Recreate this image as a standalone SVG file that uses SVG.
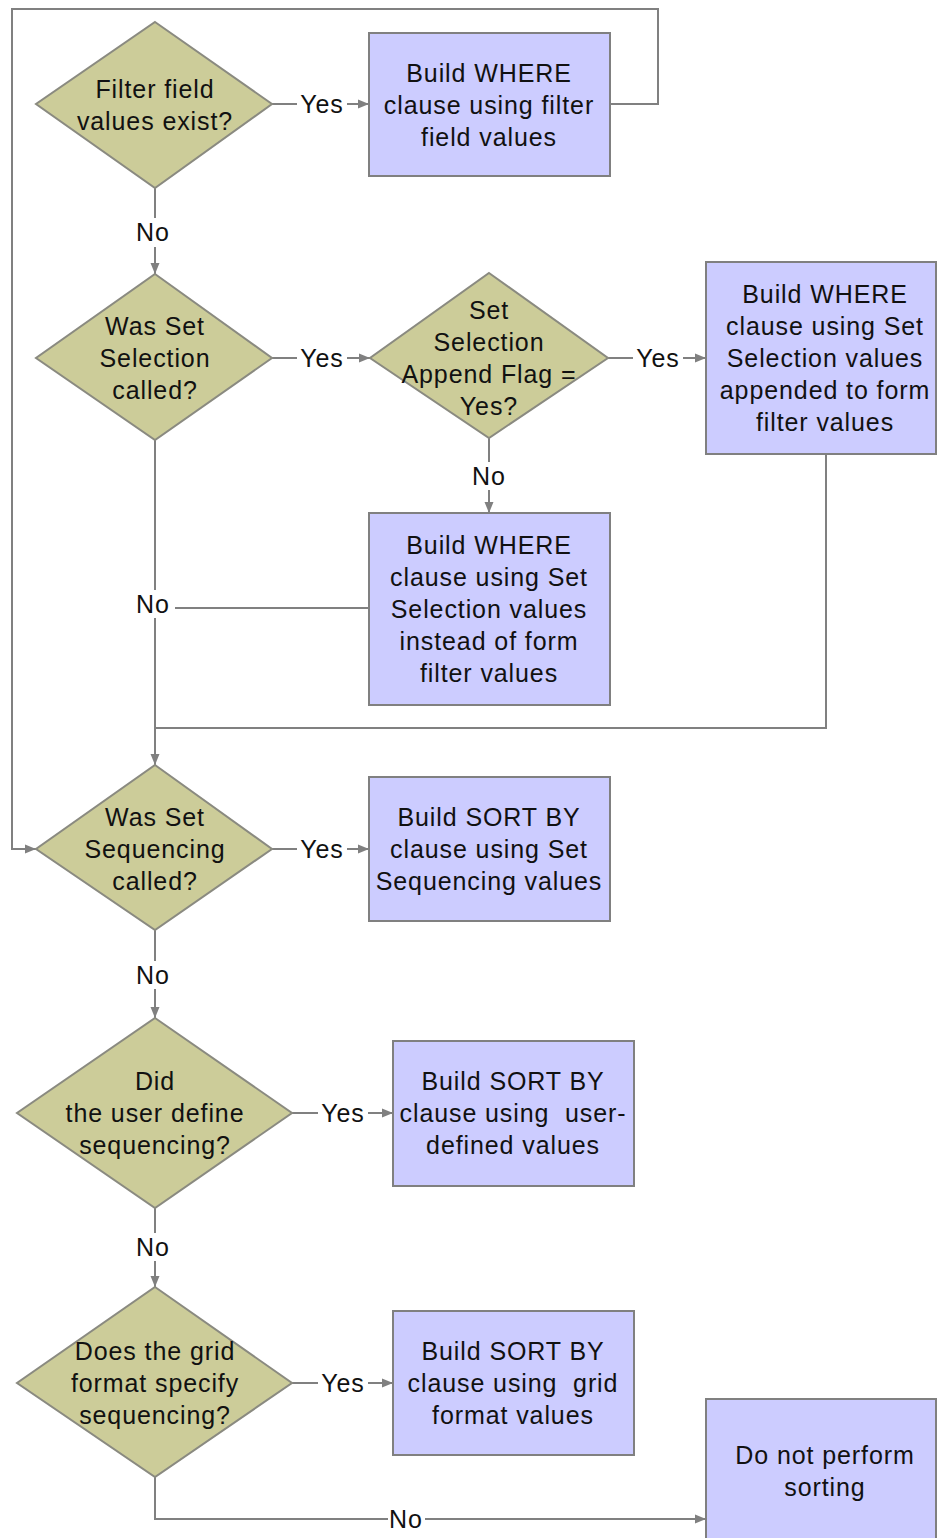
<svg xmlns="http://www.w3.org/2000/svg" width="937" height="1538" viewBox="0 0 937 1538">
<style>
.d{fill:#cccc99;stroke:#8a8a80;stroke-width:2}
.b{fill:#ccccff;stroke:#808080;stroke-width:2}
.t{font-family:"Liberation Sans",Arial,sans-serif;font-size:25px;fill:#111111;text-anchor:middle;letter-spacing:0.9px}
.c{fill:none;stroke:#808080;stroke-width:2}
.a{marker-end:url(#ah)}
</style>
<defs>
<marker id="ah" markerUnits="userSpaceOnUse" markerWidth="12" markerHeight="10" refX="11" refY="5" orient="auto">
<path d="M0,0.5 L11,5 L0,9.5 z" fill="#808080"/>
</marker>
</defs>
<rect width="937" height="1538" fill="#ffffff"/>
<g id="connectors">
<path class="c" d="M272,104 H297"/><path class="c a" d="M347,104 H369"/>
<path class="c a" d="M610,104 H658 V9 H12 V849 H36"/>
<path class="c" d="M155,188 V218"/><path class="c a" d="M155,247 V274"/>
<path class="c" d="M272,358 H297"/><path class="c a" d="M347,358 H370"/>
<path class="c" d="M608,358 H633"/><path class="c a" d="M683,358 H706"/>
<path class="c" d="M489,438 V462"/><path class="c a" d="M489,490 V513"/>
<path class="c" d="M155,440 V590"/><path class="c a" d="M155,618 V765"/>
<path class="c" d="M369,608 H175"/>
<path class="c" d="M826,455 V728 H155"/>
<path class="c" d="M272,849 H297"/><path class="c a" d="M347,849 H369"/>
<path class="c" d="M155,930 V961"/><path class="c a" d="M155,989 V1018"/>
<path class="c" d="M292,1113 H318"/><path class="c a" d="M368,1113 H393"/>
<path class="c" d="M155,1208 V1233"/><path class="c a" d="M155,1261 V1287"/>
<path class="c" d="M292,1383 H318"/><path class="c a" d="M368,1383 H393"/>
<path class="c" d="M155,1477 V1519 H388"/><path class="c a" d="M425,1519 H706"/>
<g class="t">
<text x="322" y="113">Yes</text>
<text x="322" y="367">Yes</text>
<text x="658" y="367">Yes</text>
<text x="322" y="858">Yes</text>
<text x="343" y="1122">Yes</text>
<text x="343" y="1392">Yes</text>
<text x="153" y="241">No</text>
<text x="489" y="485">No</text>
<text x="153" y="613">No</text>
<text x="153" y="984">No</text>
<text x="153" y="1256">No</text>
<text x="406" y="1528">No</text>
</g>
</g>
<g id="d1"><path class="d" d="M155,22 L272,104 L155,188 L36,104 z"/>
<text class="t" x="155" y="98">Filter field</text><text class="t" x="155" y="130">values exist?</text></g>
<g id="b1"><rect class="b" x="369" y="33" width="241" height="143"/>
<text class="t" x="489" y="82">Build WHERE</text><text class="t" x="489" y="114">clause using filter</text><text class="t" x="489" y="146">field values</text></g>
<g id="d2"><path class="d" d="M155,274 L272,358 L155,440 L36,358 z"/>
<text class="t" x="155" y="335">Was Set</text><text class="t" x="155" y="367">Selection</text><text class="t" x="155" y="399">called?</text></g>
<g id="d3"><path class="d" d="M489,273 L608,358 L489,438 L370,358 z"/>
<text class="t" x="489" y="319">Set</text><text class="t" x="489" y="351">Selection</text><text class="t" x="489" y="383">Append Flag =</text><text class="t" x="489" y="415">Yes?</text></g>
<g id="b2"><rect class="b" x="706" y="262" width="230" height="192"/>
<text class="t" x="825" y="303">Build WHERE</text><text class="t" x="825" y="335">clause using Set</text><text class="t" x="825" y="367">Selection values</text><text class="t" x="825" y="399">appended to form</text><text class="t" x="825" y="431">filter values</text></g>
<g id="b3"><rect class="b" x="369" y="513" width="241" height="192"/>
<text class="t" x="489" y="554">Build WHERE</text><text class="t" x="489" y="586">clause using Set</text><text class="t" x="489" y="618">Selection values</text><text class="t" x="489" y="650">instead of form</text><text class="t" x="489" y="682">filter values</text></g>
<g id="d4"><path class="d" d="M155,765 L272,849 L155,930 L36,849 z"/>
<text class="t" x="155" y="826">Was Set</text><text class="t" x="155" y="858">Sequencing</text><text class="t" x="155" y="890">called?</text></g>
<g id="b4"><rect class="b" x="369" y="777" width="241" height="144"/>
<text class="t" x="489" y="826">Build SORT BY</text><text class="t" x="489" y="858">clause using Set</text><text class="t" x="489" y="890">Sequencing values</text></g>
<g id="d5"><path class="d" d="M155,1018 L292,1113 L155,1208 L17,1113 z"/>
<text class="t" x="155" y="1090">Did</text><text class="t" x="155" y="1122">the user define</text><text class="t" x="155" y="1154">sequencing?</text></g>
<g id="b5"><rect class="b" x="393" y="1041" width="241" height="145"/>
<text class="t" x="513" y="1090">Build SORT BY</text><text class="t" x="513" y="1122" xml:space="preserve">clause using  user-</text><text class="t" x="513" y="1154">defined values</text></g>
<g id="d6"><path class="d" d="M155,1287 L292,1383 L155,1477 L17,1383 z"/>
<text class="t" x="155" y="1360">Does the grid</text><text class="t" x="155" y="1392">format specify</text><text class="t" x="155" y="1424">sequencing?</text></g>
<g id="b6"><rect class="b" x="393" y="1311" width="241" height="144"/>
<text class="t" x="513" y="1360">Build SORT BY</text><text class="t" x="513" y="1392" xml:space="preserve">clause using  grid</text><text class="t" x="513" y="1424">format values</text></g>
<g id="b7"><rect class="b" x="706" y="1399" width="230" height="150"/>
<text class="t" x="825" y="1464">Do not perform</text><text class="t" x="825" y="1496">sorting</text></g>
</svg>
